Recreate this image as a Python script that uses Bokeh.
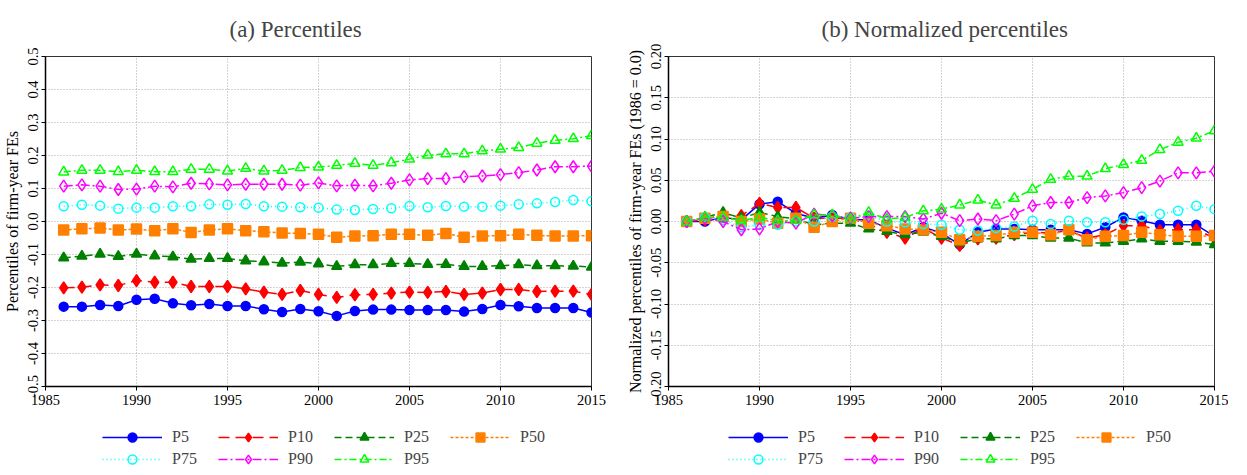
from bokeh.plotting import figure
from bokeh.layouts import row, column
from bokeh.models import Range1d, FixedTicker, Legend, LegendItem, NumeralTickFormatter
from bokeh.embed import file_html
from bokeh.resources import INLINE

years = [1986, 1987, 1988, 1989, 1990, 1991, 1992, 1993, 1994, 1995,
         1996, 1997, 1998, 1999, 2000, 2001, 2002, 2003, 2004, 2005,
         2006, 2007, 2008, 2009, 2010, 2011, 2012, 2013, 2014, 2015]

p5 = [-0.258, -0.258, -0.253, -0.256, -0.237, -0.234, -0.248, -0.254, -0.250, -0.256,
      -0.256, -0.266, -0.274, -0.265, -0.272, -0.286, -0.271, -0.267, -0.267, -0.268,
      -0.268, -0.268, -0.273, -0.265, -0.253, -0.257, -0.262, -0.262, -0.262, -0.276]
p10 = [-0.201, -0.199, -0.192, -0.194, -0.179, -0.184, -0.184, -0.197, -0.197, -0.197,
       -0.204, -0.214, -0.221, -0.209, -0.221, -0.230, -0.222, -0.221, -0.217, -0.214,
       -0.215, -0.212, -0.221, -0.217, -0.206, -0.206, -0.212, -0.211, -0.211, -0.221]
p25 = [-0.110, -0.105, -0.099, -0.106, -0.099, -0.104, -0.107, -0.114, -0.112, -0.112,
       -0.119, -0.122, -0.126, -0.123, -0.128, -0.136, -0.131, -0.131, -0.127, -0.127,
       -0.130, -0.130, -0.136, -0.136, -0.134, -0.131, -0.134, -0.134, -0.135, -0.138]
p50 = [-0.026, -0.022, -0.020, -0.026, -0.023, -0.028, -0.022, -0.033, -0.026, -0.022,
       -0.028, -0.031, -0.035, -0.036, -0.039, -0.048, -0.044, -0.043, -0.039, -0.039,
       -0.042, -0.036, -0.048, -0.044, -0.043, -0.039, -0.042, -0.044, -0.044, -0.043]
p75 = [0.046, 0.051, 0.048, 0.039, 0.042, 0.042, 0.046, 0.046, 0.052, 0.051,
       0.053, 0.046, 0.045, 0.043, 0.042, 0.036, 0.035, 0.038, 0.040, 0.047,
       0.043, 0.047, 0.045, 0.045, 0.048, 0.052, 0.055, 0.059, 0.065, 0.061]
p90 = [0.107, 0.111, 0.107, 0.097, 0.098, 0.107, 0.105, 0.116, 0.114, 0.111,
       0.113, 0.113, 0.113, 0.110, 0.117, 0.108, 0.110, 0.108, 0.116, 0.126,
       0.130, 0.130, 0.136, 0.138, 0.142, 0.148, 0.156, 0.166, 0.166, 0.168]
p95 = [0.150, 0.155, 0.155, 0.151, 0.155, 0.151, 0.151, 0.158, 0.158, 0.153,
       0.161, 0.153, 0.155, 0.163, 0.165, 0.170, 0.176, 0.170, 0.178, 0.189,
       0.201, 0.205, 0.205, 0.214, 0.219, 0.224, 0.237, 0.246, 0.251, 0.260]

labels = ["P5", "P10", "P25", "P50", "P75", "P90", "P95"]
colors = ["#0000ff", "#ff0000", "#008000", "#ff8000", "#00ffff", "#ff00ff", "#00ff00"]
markers = ["circle", "diamond", "triangle", "square", "circle", "diamond", "triangle"]
filled = [True, True, True, True, False, False, False]
dashes = ["solid", "11 6", "7 4", "3 2", "1 3", "9 3 2 3", "7 3 2 3"]
sizes = [9, 12, 10, 10, 9, 12, 10]

FONT = "Liberation Serif"


def style_series(p, xs, ys, col, mk, fl, dash, sz):
    ln = p.line(xs, ys, line_color=col, line_width=1.5, line_dash=dash)
    sc = p.scatter(xs, ys, marker=mk, size=sz, line_color=col, line_width=1.5,
                   fill_color=col if fl else None)
    return [ln, sc]


def make_panel(title, series, ylim, ystep, yfmt, ylabel, border_left, border_right,
               title_offset):
    p = figure(frame_width=546, frame_height=330,
               x_range=Range1d(1985, 2015), y_range=Range1d(-ylim, ylim),
               output_backend="svg", toolbar_location=None, tools="",
               min_border_left=border_left, min_border_right=border_right,
               min_border_top=52, min_border_bottom=28)
    p.title.text = title
    p.title.align = "left"
    p.title.offset = title_offset
    p.title.standoff = 29
    p.title.text_font = FONT
    p.title.text_font_size = "23px"
    p.title.text_font_style = "normal"

    p.xaxis.ticker = FixedTicker(ticks=[1985, 1990, 1995, 2000, 2005, 2010, 2015])
    n = int(round(ylim / ystep))
    p.yaxis.ticker = FixedTicker(ticks=[round(i * ystep, 3) for i in range(-n, n + 1)])
    p.yaxis.formatter = NumeralTickFormatter(format=yfmt)
    p.yaxis.major_label_orientation = "vertical"
    p.yaxis.axis_label = ylabel
    for ax in (p.xaxis, p.yaxis):
        ax.major_label_text_font = FONT
        ax.major_label_text_font_size = "14.5px"
        ax.axis_label_text_font = FONT
        ax.axis_label_text_font_size = "16px"
        ax.axis_label_text_font_style = "normal"
        ax.axis_label_standoff = 4
        ax.major_label_standoff = 4
        ax.major_tick_in = 0
        ax.major_tick_out = 4
        ax.minor_tick_out = 0
        ax.minor_tick_in = 0
        ax.axis_line_width = 1.5
        ax.axis_line_color = "black"
        ax.major_tick_line_color = "black"
        ax.major_label_text_color = "black"
        ax.axis_label_text_color = "black"
    p.xgrid.grid_line_color = "#a8a8a8"
    p.ygrid.grid_line_color = "#a8a8a8"
    p.xgrid.grid_line_dash = "1 2"
    p.ygrid.grid_line_dash = "1 2"
    p.outline_line_color = "#333333"
    p.outline_line_width = 1

    for ys, col, mk, fl, dash, sz in zip(series, colors, markers, filled, dashes, sizes):
        style_series(p, years, ys, col, mk, fl, dash, sz)
    return p


def make_legend_fig(series, width, x0):
    # strip under each panel that only carries the legend; its ranges keep
    # the series themselves out of view so only the legend glyphs show
    f = figure(width=width, height=56, x_range=Range1d(0, 1), y_range=Range1d(0, 1),
               x_axis_type=None, y_axis_type=None,
               output_backend="svg", toolbar_location=None, tools="",
               min_border=0)
    f.grid.visible = False
    f.outline_line_color = None
    items = []
    for lab, ys, col, mk, fl, dash, sz in zip(labels, series, colors, markers, filled, dashes, sizes):
        rs = style_series(f, years, ys, col, mk, fl, dash, sz)
        items.append(LegendItem(label=lab, renderers=rs))
    legend = Legend(items=items, orientation="horizontal", ncols=4, location=(x0, 0),
                    glyph_width=60, glyph_height=22, label_standoff=10, spacing=0,
                    label_width=46, label_height=14,
                    label_text_font=FONT, label_text_font_size="16px",
                    border_line_color=None, background_fill_alpha=0,
                    margin=0, padding=0)
    f.add_layout(legend)
    return f


raw = [p5, p10, p25, p50, p75, p90, p95]
# normalized panel: each percentile relative to its 1986 level
norm = [[v - s[0] for v in s] for s in raw]

left = make_panel("(a) Percentiles", raw, 0.5, 0.1, "0.0",
                  "Percentiles of firm-year FEs", 42, 32, 184)
right = make_panel("(b) Normalized percentiles", norm, 0.2, 0.05, "0.00",
                   "Normalized percentiles of firm-year FEs (1986 = 0.0)", 45, 14, 153)

layout = row(column(left, make_legend_fig(raw, 620, 57)),
             column(right, make_legend_fig(norm, 605, 60)))
open("out.html", "w").write(file_html(layout, INLINE))
